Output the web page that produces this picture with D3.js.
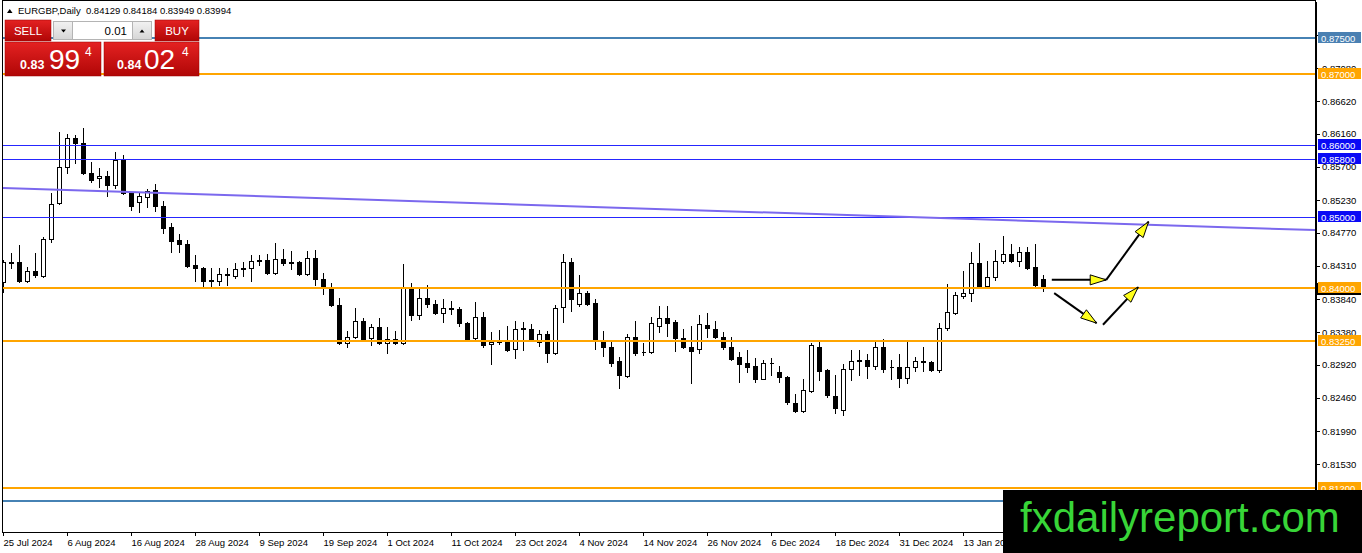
<!DOCTYPE html>
<html lang="en">
  <head>
    <meta charset="UTF-8">
    <title>EURGBP Daily</title>
    <style>
      body { margin: 0; background: #fff; }
      .axis text { font-family: "Liberation Sans", Arial, sans-serif; font-size: 9.5px; fill: #000; }
      .axis path, .axis line { stroke: #000; shape-rendering: crispEdges; }
      .lvl-text { font-family: "Liberation Sans", Arial, sans-serif; font-size: 9.5px; fill: #fff; }
      .btn-text { font-family: "Liberation Sans", Arial, sans-serif; fill: #fff; }
    </style>
    <script src="https://d3js.org/d3.v7.min.js"></script>
  </head>
  <body>
    <script>
      // daily candles, 25 Jul 2024 .. 17 Jan 2025
      const opens = [
        0.84084, 0.84350, 0.84364, 0.84098, 0.84238, 0.84168, 0.84686, 0.85190, 0.85694, 0.86100,
        0.86030, 0.85610, 0.85540, 0.85568, 0.85442, 0.85792, 0.85330, 0.85204, 0.85274, 0.85372,
        0.85148, 0.84854, 0.84672, 0.84616, 0.84322, 0.84280, 0.84098, 0.84098, 0.84182, 0.84168,
        0.84266, 0.84280, 0.84378, 0.84392, 0.84210, 0.84406, 0.84350, 0.84364, 0.84196, 0.84420,
        0.84126, 0.84014, 0.83762, 0.83230, 0.83314, 0.83538, 0.83300, 0.83454, 0.83230, 0.83286,
        0.83230, 0.84014, 0.83622, 0.83860, 0.83776, 0.83650, 0.83706, 0.83706, 0.83510, 0.83300,
        0.83594, 0.83216, 0.83244, 0.83244, 0.83146, 0.83426, 0.83426, 0.83244, 0.83356, 0.83090,
        0.83734, 0.84364, 0.83776, 0.83930, 0.83790, 0.83272, 0.83174, 0.82978, 0.82768, 0.83314,
        0.83104, 0.83104, 0.83468, 0.83580, 0.83524, 0.83300, 0.83174, 0.83146, 0.83482, 0.83426,
        0.83314, 0.83174, 0.83034, 0.82950, 0.82908, 0.82726, 0.82950, 0.82824, 0.82754, 0.82390,
        0.82278, 0.82558, 0.83174, 0.82852, 0.82488, 0.82292, 0.82866, 0.82978, 0.82992, 0.82908,
        0.83174, 0.82894, 0.82894, 0.82740, 0.82894, 0.82964, 0.82964, 0.82852, 0.83440, 0.83650,
        0.83888, 0.83930, 0.84350, 0.84028, 0.84154, 0.84378, 0.84476, 0.84378, 0.84504, 0.84294,
        0.84129
      ];
      const highs = [
        0.84392, 0.84490, 0.84602, 0.84294, 0.84490, 0.84714, 0.85330, 0.86184, 0.86156, 0.86142,
        0.86240, 0.85764, 0.85680, 0.85638, 0.85904, 0.85862, 0.85344, 0.85330, 0.85386, 0.85456,
        0.85218, 0.84910, 0.84756, 0.84672, 0.84462, 0.84294, 0.84280, 0.84280, 0.84280, 0.84350,
        0.84364, 0.84462, 0.84462, 0.84476, 0.84630, 0.84546, 0.84518, 0.84378, 0.84518, 0.84532,
        0.84210, 0.84070, 0.83860, 0.83398, 0.83720, 0.83580, 0.83496, 0.83580, 0.83454, 0.83398,
        0.84336, 0.84070, 0.84000, 0.84042, 0.83832, 0.83846, 0.83818, 0.83734, 0.83524, 0.83804,
        0.83664, 0.83384, 0.83412, 0.83468, 0.83538, 0.83524, 0.83496, 0.83412, 0.83398, 0.83762,
        0.84476, 0.84420, 0.84182, 0.83958, 0.83846, 0.83398, 0.83244, 0.83034, 0.83356, 0.83538,
        0.83230, 0.83594, 0.83748, 0.83748, 0.83552, 0.83426, 0.83468, 0.83622, 0.83650, 0.83538,
        0.83384, 0.83314, 0.83104, 0.83132, 0.83020, 0.82992, 0.83020, 0.82908, 0.82768, 0.82516,
        0.82726, 0.83230, 0.83244, 0.82866, 0.82782, 0.82936, 0.83132, 0.83132, 0.83076, 0.83244,
        0.83286, 0.82992, 0.83076, 0.83258, 0.83034, 0.83174, 0.82978, 0.83510, 0.84056, 0.83944,
        0.84238, 0.84504, 0.84630, 0.84378, 0.84532, 0.84728, 0.84616, 0.84574, 0.84574, 0.84616,
        0.84184
      ];
      const lows = [
        0.83944, 0.84280, 0.84084, 0.84084, 0.84154, 0.84154, 0.84644, 0.85176, 0.85610, 0.85750,
        0.85596, 0.85484, 0.85414, 0.85288, 0.85400, 0.85316, 0.85092, 0.85064, 0.85134, 0.85078,
        0.84770, 0.84504, 0.84504, 0.84294, 0.84098, 0.84028, 0.84014, 0.84042, 0.84042, 0.84140,
        0.84168, 0.84098, 0.84322, 0.84196, 0.84196, 0.84322, 0.84266, 0.84182, 0.84182, 0.84042,
        0.83916, 0.83748, 0.83216, 0.83174, 0.83300, 0.83272, 0.83202, 0.83216, 0.83090, 0.83216,
        0.83216, 0.83552, 0.83566, 0.83734, 0.83636, 0.83524, 0.83636, 0.83468, 0.83272, 0.83286,
        0.83174, 0.82936, 0.83216, 0.83118, 0.83020, 0.83132, 0.83258, 0.83188, 0.82964, 0.83076,
        0.83524, 0.83678, 0.83748, 0.83762, 0.83146, 0.83048, 0.82908, 0.82600, 0.82754, 0.83062,
        0.83062, 0.83090, 0.83384, 0.83328, 0.83118, 0.83160, 0.82670, 0.83090, 0.83314, 0.83300,
        0.83146, 0.82992, 0.82684, 0.82824, 0.82684, 0.82740, 0.82782, 0.82684, 0.82376, 0.82264,
        0.82264, 0.82544, 0.82712, 0.82474, 0.82250, 0.82222, 0.82712, 0.82782, 0.82740, 0.82866,
        0.82824, 0.82726, 0.82614, 0.82670, 0.82838, 0.82838, 0.82838, 0.82824, 0.83412, 0.83636,
        0.83860, 0.83818, 0.84014, 0.84014, 0.84112, 0.84350, 0.84364, 0.84308, 0.84266, 0.84028,
        0.83949
      ];
      const closes = [
        0.84364, 0.84364, 0.84098, 0.84238, 0.84182, 0.84686, 0.85176, 0.85694, 0.86100, 0.86030,
        0.85610, 0.85512, 0.85568, 0.85442, 0.85792, 0.85330, 0.85148, 0.85288, 0.85358, 0.85148,
        0.84840, 0.84658, 0.84616, 0.84308, 0.84280, 0.84098, 0.84112, 0.84196, 0.84196, 0.84266,
        0.84280, 0.84378, 0.84392, 0.84210, 0.84406, 0.84350, 0.84364, 0.84196, 0.84420, 0.84126,
        0.84014, 0.83762, 0.83230, 0.83314, 0.83538, 0.83286, 0.83454, 0.83230, 0.83286, 0.83230,
        0.84014, 0.83622, 0.83860, 0.83776, 0.83650, 0.83720, 0.83720, 0.83510, 0.83286, 0.83594,
        0.83202, 0.83244, 0.83250, 0.83132, 0.83426, 0.83434, 0.83272, 0.83356, 0.83090, 0.83720,
        0.84364, 0.83846, 0.83930, 0.83776, 0.83272, 0.83174, 0.82950, 0.82782, 0.83314, 0.83090,
        0.83096, 0.83510, 0.83580, 0.83510, 0.83300, 0.83174, 0.83118, 0.83496, 0.83440, 0.83314,
        0.83174, 0.83006, 0.82936, 0.82894, 0.82726, 0.82950, 0.82944, 0.82754, 0.82404, 0.82278,
        0.82572, 0.83202, 0.82838, 0.82502, 0.82320, 0.82866, 0.82978, 0.82984, 0.82908, 0.83174,
        0.82866, 0.82888, 0.82740, 0.82894, 0.82978, 0.82970, 0.82852, 0.83440, 0.83664, 0.83902,
        0.83930, 0.84350, 0.84028, 0.84154, 0.84378, 0.84476, 0.84378, 0.84504, 0.84280, 0.84042,
        0.83994
      ];

      // one label every 8 bars
      const dateLabels = ["25 Jul 2024", "6 Aug 2024", "16 Aug 2024", "28 Aug 2024", "9 Sep 2024",
        "19 Sep 2024", "1 Oct 2024", "11 Oct 2024", "23 Oct 2024", "4 Nov 2024", "14 Nov 2024",
        "26 Nov 2024", "6 Dec 2024", "18 Dec 2024", "31 Dec 2024", "13 Jan 2025"];
      const priceTickLabels = ["0.87540", "0.87080", "0.86620", "0.86160", "0.85700", "0.85230",
        "0.84770", "0.84310", "0.83840", "0.83380", "0.82920", "0.82460", "0.81990", "0.81530"];

      // horizontal levels drawn on the chart (the last one has its label under the watermark)
      const levelPrices = [0.87500, 0.87000, 0.86000, 0.85800, 0.85000, 0.84000, 0.83250, 0.81200, 0.81010];
      const levelKinds = ["steel", "orange", "blue", "blue", "blue", "orange", "orange", "orange", "steel"];
      const levelShown = [true, true, true, true, true, true, true, true, false];

      // descending trend line (bar index, price)
      const trendBars = [0, 164];
      const trendPrices = [0.85400, 0.84810];

      // scenario arrows: segments from/to (bar index, price), all with a head at "to"
      const arrowFromBar = [131.1, 137.9, 131.4, 137.5];
      const arrowFromPrice = [0.84112, 0.84112, 0.83926, 0.83482];
      const arrowToBar = [137.9, 143.2, 136.7, 141.9];
      const arrowToPrice = [0.84112, 0.84928, 0.83506, 0.84010];

      const symbol = "EURGBP,Daily";
      const bid = 0.83994;
      const ask = 0.84024;
      const lotSize = "0.01";

      const width = 1362;
      const height = 553;
      const plot = { left: 3, top: 1, right: 1316, bottom: 532 };

      const kindStyle = {
        steel: { color: "#4682b4", width: 2, label: "#4a80b2" },
        orange: { color: "#ffa500", width: 2, label: "#ffa500" },
        blue: { color: "#2626ff", width: 1, label: "#0a0af5" }
      };

      const svg = d3.select("body")
        .append("svg")
        .attr("width", width)
        .attr("height", height)
        .style("display", "block");

      const defs = svg.append("defs");
      defs.append("clipPath").attr("id", "plotclip")
        .append("rect")
        .attr("x", plot.left).attr("y", plot.top)
        .attr("width", plot.right - plot.left).attr("height", plot.bottom - plot.top);
      const grad = defs.append("linearGradient").attr("id", "red").attr("x1", 0).attr("y1", 0).attr("x2", 0).attr("y2", 1);
      grad.append("stop").attr("offset", "0%").attr("stop-color", "#e42222");
      grad.append("stop").attr("offset", "100%").attr("stop-color", "#b00606");
      const gray = defs.append("linearGradient").attr("id", "gray").attr("x1", 0).attr("y1", 0).attr("x2", 0).attr("y2", 1);
      gray.append("stop").attr("offset", "0%").attr("stop-color", "#f2f2f2");
      gray.append("stop").attr("offset", "100%").attr("stop-color", "#d6d6d6");

      const x = d3.scaleLinear()
        .domain([0, opens.length - 1])
        .range([3, 3 + 8 * (opens.length - 1)]);

      const y = d3.scaleLinear()
        .domain([0.805768, 0.880221])
        .range([plot.bottom, plot.top]);

      const bars = opens.map((o, i) => ({ i, o, h: highs[i], l: lows[i], c: closes[i] }));

      const chart = svg.append("g").attr("clip-path", "url(#plotclip)");

      // candles
      chart.selectAll(".wick")
        .data(bars)
        .enter()
        .append("line")
        .attr("class", "wick")
        .attr("x1", d => x(d.i) + 0.5)
        .attr("x2", d => x(d.i) + 0.5)
        .attr("y1", d => Math.round(y(d.h)))
        .attr("y2", d => Math.round(y(d.l)) + 1)
        .attr("stroke", "#000")
        .attr("shape-rendering", "crispEdges");

      chart.selectAll(".body")
        .data(bars)
        .enter()
        .append("path")
        .attr("class", "body")
        .attr("d", d => {
          const top = Math.round(y(Math.max(d.o, d.c))) + 0.5;
          const bot = Math.round(y(Math.min(d.o, d.c))) + 0.5;
          return `M${x(d.i) - 1.5},${top}h4v${bot - top}h-4Z`;
        })
        .attr("fill", d => d.c >= d.o ? "#fff" : "#000")
        .attr("stroke", "#000")
        .attr("shape-rendering", "crispEdges");

      // levels
      const levelY = (d, i) => kindStyle[levelKinds[i]].width === 1 ? Math.round(y(d)) + 0.5 : Math.round(y(d));
      chart.selectAll(".level")
        .data(levelPrices)
        .enter()
        .append("line")
        .attr("class", "level")
        .attr("x1", plot.left)
        .attr("x2", plot.right)
        .attr("y1", levelY)
        .attr("y2", levelY)
        .attr("stroke", (d, i) => kindStyle[levelKinds[i]].color)
        .attr("stroke-width", (d, i) => kindStyle[levelKinds[i]].width)
        .attr("shape-rendering", "crispEdges");

      // trend line
      chart.append("line")
        .attr("x1", x(trendBars[0]))
        .attr("y1", y(trendPrices[0]))
        .attr("x2", x(trendBars[1]))
        .attr("y2", y(trendPrices[1]))
        .attr("stroke", "#7b68ee")
        .attr("stroke-width", 2);

      // arrows
      const arrows = arrowFromBar.map((b, i) => ({
        x1: x(b), y1: y(arrowFromPrice[i]), x2: x(arrowToBar[i]), y2: y(arrowToPrice[i])
      }));
      const arrowG = svg.append("g");
      arrowG.selectAll(".arrow-line")
        .data(arrows)
        .enter()
        .append("line")
        .attr("x1", d => d.x1).attr("y1", d => d.y1)
        .attr("x2", d => d.x2).attr("y2", d => d.y2)
        .attr("stroke", "#000")
        .attr("stroke-width", 2);
      arrowG.selectAll(".arrow-head")
        .data(arrows)
        .enter()
        .append("path")
        .attr("d", d => {
          const a = Math.atan2(d.y2 - d.y1, d.x2 - d.x1);
          const len = 16, half = 5;
          const bx = d.x2 - len * Math.cos(a), by = d.y2 - len * Math.sin(a);
          const px = -Math.sin(a) * half, py = Math.cos(a) * half;
          return `M${d.x2},${d.y2}L${bx + px},${by + py}L${bx - px},${by - py}Z`;
        })
        .attr("fill", "#ffff1a")
        .attr("stroke", "#000")
        .attr("stroke-width", 1);

      // frame
      svg.append("rect")
        .attr("x", plot.left - 0.5)
        .attr("y", plot.top - 0.5)
        .attr("width", plot.right - plot.left)
        .attr("height", plot.bottom - plot.top + 0.5)
        .attr("fill", "none")
        .attr("stroke", "#000")
        .attr("shape-rendering", "crispEdges");

      // axes
      svg.append("g")
        .attr("class", "axis axis-y")
        .attr("transform", `translate(${plot.right},0)`)
        .call(d3.axisRight(y)
          .tickValues(priceTickLabels.map(Number))
          .tickFormat(d3.format(".5f"))
          .tickSize(4)
          .tickSizeOuter(0)
          .tickPadding(2));

      const xAxis = svg.append("g")
        .attr("class", "axis axis-x")
        .attr("transform", `translate(0,${plot.bottom})`)
        .call(d3.axisBottom(x)
          .tickValues(dateLabels.map((d, i) => i * 8))
          .tickFormat(d => dateLabels[d / 8])
          .tickSize(4)
          .tickSizeOuter(0)
          .tickPadding(3));
      xAxis.select(".domain").remove();
      xAxis.selectAll("text").attr("text-anchor", "start").attr("x", 0);

      // bid label (mostly hidden under the 0.84 level label)
      svg.append("rect")
        .attr("x", plot.right + 1).attr("y", Math.round(y(bid)) - 5)
        .attr("width", 44).attr("height", 12)
        .attr("fill", "#000");

      // level price labels
      const lvl = svg.selectAll(".lvl")
        .data(levelPrices.filter((d, i) => levelShown[i]))
        .enter()
        .append("g")
        .attr("class", "lvl")
        .attr("transform", d => `translate(${plot.right + 2},${Math.round(y(d))})`);
      lvl.append("rect")
        .attr("x", 0).attr("y", -6)
        .attr("width", 43).attr("height", 11)
        .attr("fill", (d, i) => kindStyle[levelKinds[i]].label);
      lvl.append("text")
        .attr("class", "lvl-text")
        .attr("x", 3).attr("y", 3.5)
        .text(d => d3.format(".5f")(d));

      // header
      const last = bars[bars.length - 1];
      svg.append("path").attr("d", "M7,13L12.5,13L9.75,9Z").attr("fill", "#000");
      svg.append("text")
        .attr("x", 18).attr("y", 13.5)
        .attr("font-family", "Liberation Sans, Arial, sans-serif")
        .attr("font-size", 9.5)
        .style("white-space", "pre")
        .text(`${symbol}  ${[last.o, last.h, last.l, last.c].map(d3.format(".5f")).join(" ")}`);

      // one-click trading panel
      const panel = svg.append("g");
      const fmt = d3.format(".5f");
      const parts = v => { const s = fmt(v); return [s.slice(0, 4), s.slice(4, 6), s.slice(6)]; };

      panel.append("rect").attr("x", 5).attr("y", 20).attr("width", 46).attr("height", 21)
        .attr("fill", "url(#red)").attr("stroke", "#9c0000").attr("stroke-width", 0.5);
      panel.append("text").attr("class", "btn-text").attr("x", 28).attr("y", 35)
        .attr("text-anchor", "middle").attr("font-size", 11.5).text("SELL");

      panel.append("rect").attr("x", 155).attr("y", 20).attr("width", 44).attr("height", 21)
        .attr("fill", "url(#red)").attr("stroke", "#9c0000").attr("stroke-width", 0.5);
      panel.append("text").attr("class", "btn-text").attr("x", 177).attr("y", 35)
        .attr("text-anchor", "middle").attr("font-size", 11.5).text("BUY");

      panel.append("rect").attr("x", 53.5).attr("y", 21.5).attr("width", 98).attr("height", 18)
        .attr("fill", "#fff").attr("stroke", "#b4b4b4");
      panel.append("rect").attr("x", 53.5).attr("y", 21.5).attr("width", 19).attr("height", 18)
        .attr("fill", "url(#gray)").attr("stroke", "#b4b4b4");
      panel.append("rect").attr("x", 132.5).attr("y", 21.5).attr("width", 19).attr("height", 18)
        .attr("fill", "url(#gray)").attr("stroke", "#b4b4b4");
      panel.append("path").attr("d", "M61,29.5L66,29.5L63.5,32.5Z").attr("fill", "#000");
      panel.append("path").attr("d", "M139.5,32.5L144.5,32.5L142,29.5Z").attr("fill", "#000");
      panel.append("text").attr("x", 127).attr("y", 35).attr("text-anchor", "end")
        .attr("font-family", "Liberation Sans, Arial, sans-serif").attr("font-size", 11.5)
        .attr("fill", "#000").text(lotSize);

      const quote = [
        { x0: 5, w: 96, p: parts(bid), sx: 20, bx: 49, px: 85 },
        { x0: 104, w: 95, p: parts(ask), sx: 117, bx: 144, px: 182 }
      ];
      const q = panel.selectAll(".quote").data(quote).enter().append("g").attr("class", "quote");
      q.append("rect").attr("x", d => d.x0).attr("y", 42).attr("width", d => d.w).attr("height", 34)
        .attr("fill", "url(#red)").attr("stroke", "#9c0000").attr("stroke-width", 0.5);
      q.append("text").attr("class", "btn-text").attr("x", d => d.sx).attr("y", 68.5)
        .attr("font-size", 12.5).attr("font-weight", "bold").text(d => d.p[0]);
      q.append("text").attr("class", "btn-text").attr("x", d => d.bx).attr("y", 68.5)
        .attr("font-size", 28).text(d => d.p[1]);
      q.append("text").attr("class", "btn-text").attr("x", d => d.px).attr("y", 55.5)
        .attr("font-size", 12).text(d => d.p[2]);

      // watermark
      svg.append("rect").attr("x", 1003).attr("y", 490).attr("width", 359).attr("height", 63).attr("fill", "#000");
      svg.append("text")
        .attr("x", 1020).attr("y", 532)
        .attr("font-family", "Liberation Sans, Arial, sans-serif")
        .attr("font-size", 42)
        .attr("fill", "#38d538")
        .text("fxdailyreport.com");
    </script>
  </body>
</html>
